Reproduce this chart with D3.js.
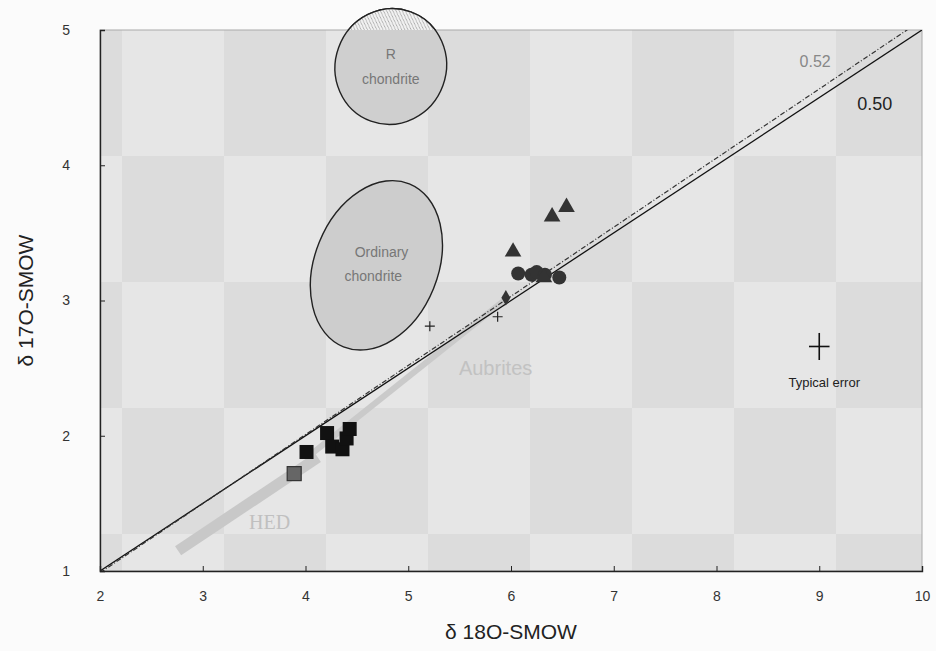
<!DOCTYPE html>
<html>
<head>
<meta charset="utf-8">
<script src="https://cdn.jsdelivr.net/npm/d3@7"></script>
<style>
  body { margin: 0; background: #fbfbfb; }
  text { font-family: "Liberation Sans", Arial, sans-serif; }
</style>
</head>
<body>
<div id="chart"></div>
<script>
// Data
var xTicks = [2, 3, 4, 5, 6, 7, 8, 9, 10];
var yTicks = [1, 2, 3, 4, 5];

// triangles
var triX = [6.02, 6.40, 6.54, 6.32];
var triY = [3.36, 3.62, 3.69, 3.17];
// circles
var circX = [6.07, 6.20, 6.25, 6.33, 6.47];
var circY = [3.20, 3.19, 3.21, 3.19, 3.17];
// squares
var sqX = [4.01, 4.21, 4.26, 4.36, 4.40, 4.43];
var sqY = [1.88, 2.02, 1.92, 1.90, 1.98, 2.05];
// small crosses
var plusX = [5.21, 5.87];
var plusY = [2.81, 2.88];

// fractionation lines: slope, intercept
var lineSlopes = [0.50, 0.511];
var lineIntercepts = [0.0, -0.035];

// SVG area
var svgWidth = 936;
var svgHeight = 651;
var margin = { top: 30, right: 14, bottom: 80, left: 100 };
var chartWidth = svgWidth - margin.left - margin.right;
var chartHeight = svgHeight - margin.top - margin.bottom;

var svg = d3.select("#chart")
    .append("svg")
    .attr("width", svgWidth)
    .attr("height", svgHeight);

var defs = svg.append("defs");

// checkered halftone background
var pat = defs.append("pattern")
    .attr("id", "checker")
    .attr("patternUnits", "userSpaceOnUse")
    .attr("x", 22).attr("y", 0)
    .attr("width", 204).attr("height", 252);
pat.append("rect").attr("width", 204).attr("height", 252).attr("fill", "#e6e6e6");
pat.append("rect").attr("x", 0).attr("y", 126).attr("width", 102).attr("height", 126).attr("fill", "#dcdcdc");
pat.append("rect").attr("x", 102).attr("y", 0).attr("width", 102).attr("height", 126).attr("fill", "#dcdcdc");

// hatch for the part of the R chondrite field above the frame
var hatch = defs.append("pattern")
    .attr("id", "hatch")
    .attr("patternUnits", "userSpaceOnUse")
    .attr("width", 4).attr("height", 4);
hatch.append("rect").attr("width", 4).attr("height", 4).attr("fill", "#f2f2f2");
hatch.append("path").attr("d", "M0,0 L4,4").attr("stroke", "#aaa").attr("stroke-width", 1);

defs.append("clipPath").attr("id", "plotClip")
    .append("rect").attr("width", chartWidth).attr("height", chartHeight);
defs.append("clipPath").attr("id", "aboveClip")
    .append("rect").attr("x", -50).attr("y", -60).attr("width", chartWidth + 100).attr("height", 60);

var chartGroup = svg.append("g")
    .attr("transform", `translate(${margin.left}, ${margin.top})`);

var xScale = d3.scaleLinear().domain([2, 10]).range([0, chartWidth]);
var yScale = d3.scaleLinear().domain([1, 5]).range([chartHeight, 0]);

chartGroup.append("rect")
    .attr("width", chartWidth)
    .attr("height", chartHeight)
    .attr("fill", "url(#checker)")
    .attr("stroke", "#aaa")
    .attr("stroke-width", 1);

// ellipse fields (centre in data units, radii in data units)
function drawField(parent, cx, cy, rx, ry, angle, fill) {
    var px = xScale(cx), py = yScale(cy);
    var erx = xScale(2 + rx) - xScale(2);
    var ery = yScale(1) - yScale(1 + ry);
    return parent.append("ellipse")
        .attr("transform", `translate(${px},${py}) rotate(${angle})`)
        .attr("rx", erx).attr("ry", ery)
        .attr("fill", fill)
        .attr("stroke", "#222")
        .attr("stroke-width", 1.4);
}
drawField(chartGroup, 4.83, 4.73, 0.54, 0.43, 20, "#cfcfcf");
// hatched portion above the frame
var aboveGroup = chartGroup.append("g").attr("clip-path", "url(#aboveClip)");
drawField(aboveGroup, 4.83, 4.73, 0.54, 0.43, 20, "url(#hatch)");
drawField(chartGroup, 4.69, 3.26, 0.60, 0.65, 22, "#cdcdcd");

// HED and aubrite bands
chartGroup.append("line")
    .attr("x1", xScale(2.76)).attr("y1", yScale(1.15))
    .attr("x2", xScale(4.12)).attr("y2", yScale(1.84))
    .attr("stroke", "#c8c8c8").attr("stroke-width", 11);
chartGroup.append("line")
    .attr("x1", xScale(4.05)).attr("y1", yScale(1.86))
    .attr("x2", xScale(5.95)).attr("y2", yScale(3.01))
    .attr("stroke", "#cacaca").attr("stroke-width", 6);

// fractionation lines
var lineGroup = chartGroup.append("g").attr("clip-path", "url(#plotClip)");
lineSlopes.forEach(function (s, i) {
    var b = lineIntercepts[i];
    lineGroup.append("line")
        .attr("x1", xScale(2)).attr("y1", yScale(s * 2 + b))
        .attr("x2", xScale(10)).attr("y2", yScale(s * 10 + b))
        .attr("stroke", i === 0 ? "#111" : "#333")
        .attr("stroke-width", i === 0 ? 1.3 : 1.2)
        .attr("stroke-dasharray", i === 0 ? null : "5,2,1,2");
});

// data points: squares
chartGroup.selectAll(".sq")
    .data(sqX)
    .enter()
    .append("rect")
    .attr("x", d => xScale(d) - 7)
    .attr("y", (d, i) => yScale(sqY[i]) - 7)
    .attr("width", 14).attr("height", 14)
    .attr("fill", "#111");
// grey square on the HED band
chartGroup.append("rect")
    .attr("x", xScale(3.89) - 7).attr("y", yScale(1.72) - 7)
    .attr("width", 14).attr("height", 14)
    .attr("fill", "#666").attr("stroke", "#333").attr("stroke-width", 1.2);

// small diamond at aubrite band end
chartGroup.append("path")
    .attr("d", d3.symbol().type(d3.symbolDiamond).size(70))
    .attr("transform", `translate(${xScale(5.95)},${yScale(3.02)})`)
    .attr("fill", "#333");

// circles
chartGroup.selectAll(".circ")
    .data(circX)
    .enter()
    .append("circle")
    .attr("cx", d => xScale(d))
    .attr("cy", (d, i) => yScale(circY[i]))
    .attr("r", 7)
    .attr("fill", "#333");

// triangles
chartGroup.selectAll(".tri")
    .data(triX)
    .enter()
    .append("path")
    .attr("d", d3.symbol().type(d3.symbolTriangle).size(120))
    .attr("transform", (d, i) => `translate(${xScale(d)},${yScale(triY[i])})`)
    .attr("fill", "#333");

// small crosses
chartGroup.selectAll(".plus")
    .data(plusX)
    .enter()
    .append("path")
    .attr("d", "M-5,0H5M0,-5V5")
    .attr("transform", (d, i) => `translate(${xScale(d)},${yScale(plusY[i])})`)
    .attr("stroke", "#222").attr("stroke-width", 1.2);

// typical error bar (+-0.1 per mil)
var ex = 9.0, ey = 2.66, err = 0.1;
chartGroup.append("line")
    .attr("x1", xScale(ex - err)).attr("x2", xScale(ex + err))
    .attr("y1", yScale(ey)).attr("y2", yScale(ey))
    .attr("stroke", "#111").attr("stroke-width", 1.6);
chartGroup.append("line")
    .attr("x1", xScale(ex)).attr("x2", xScale(ex))
    .attr("y1", yScale(ey - err)).attr("y2", yScale(ey + err))
    .attr("stroke", "#111").attr("stroke-width", 1.6);
chartGroup.append("text")
    .attr("x", xScale(ex) + 5).attr("y", yScale(ey) + 41)
    .style("text-anchor", "middle")
    .style("font-size", "13px")
    .attr("fill", "#222")
    .text("Typical error");

// field labels
function label(x, y, txt, size, color, family) {
    chartGroup.append("text")
        .attr("x", x).attr("y", y)
        .style("text-anchor", "middle")
        .style("font-size", size + "px")
        .style("font-family", family || null)
        .attr("fill", color)
        .text(txt);
}
label(xScale(4.83), yScale(4.73) - 8, "R", 14, "#777");
label(xScale(4.83), yScale(4.73) + 17, "chondrite", 14, "#777");
label(xScale(4.74), yScale(3.26) - 8, "Ordinary", 14, "#777");
label(xScale(4.66), yScale(3.26) + 16, "chondrite", 14, "#777");
label(xScale(5.85), yScale(2.45), "Aubrites", 20, "#c2c2c2");
label(xScale(3.65), yScale(1.31), "HED", 20, "#c0c0c0", "'Liberation Serif', serif");
label(xScale(8.96), yScale(4.73), "0.52", 16, "#888");
label(xScale(9.54), yScale(4.41), "0.50", 18, "#222");

// axes
var bottomAxis = d3.axisBottom(xScale).tickValues(xTicks).tickFormat(d3.format("d")).tickSize(-5).tickPadding(20);
var leftAxis = d3.axisLeft(yScale).tickValues(yTicks).tickFormat(d3.format("d")).tickSize(-5).tickPadding(30);
var gx = chartGroup.append("g")
    .attr("transform", `translate(0, ${chartHeight})`)
    .call(bottomAxis);
var gy = chartGroup.append("g").call(leftAxis);
[gx, gy].forEach(function (g) {
    g.select(".domain").attr("stroke", "#222").attr("stroke-width", 1.4);
    g.selectAll(".tick line").attr("stroke", "#222");
    g.selectAll(".tick text").style("font-size", "14px").attr("fill", "#333")
        .style("font-family", "'Liberation Sans', Arial, sans-serif");
});

// axis titles
svg.append("text")
    .attr("x", margin.left + chartWidth / 2)
    .attr("y", svgHeight - 12)
    .style("text-anchor", "middle")
    .style("font-size", "21px")
    .attr("fill", "#222")
    .text("δ 18O-SMOW");
svg.append("text")
    .attr("transform", "rotate(-90)")
    .attr("x", -(margin.top + chartHeight / 2))
    .attr("y", 33)
    .style("text-anchor", "middle")
    .style("font-size", "21px")
    .attr("fill", "#222")
    .text("δ 17O-SMOW");
</script>
</body>
</html>
